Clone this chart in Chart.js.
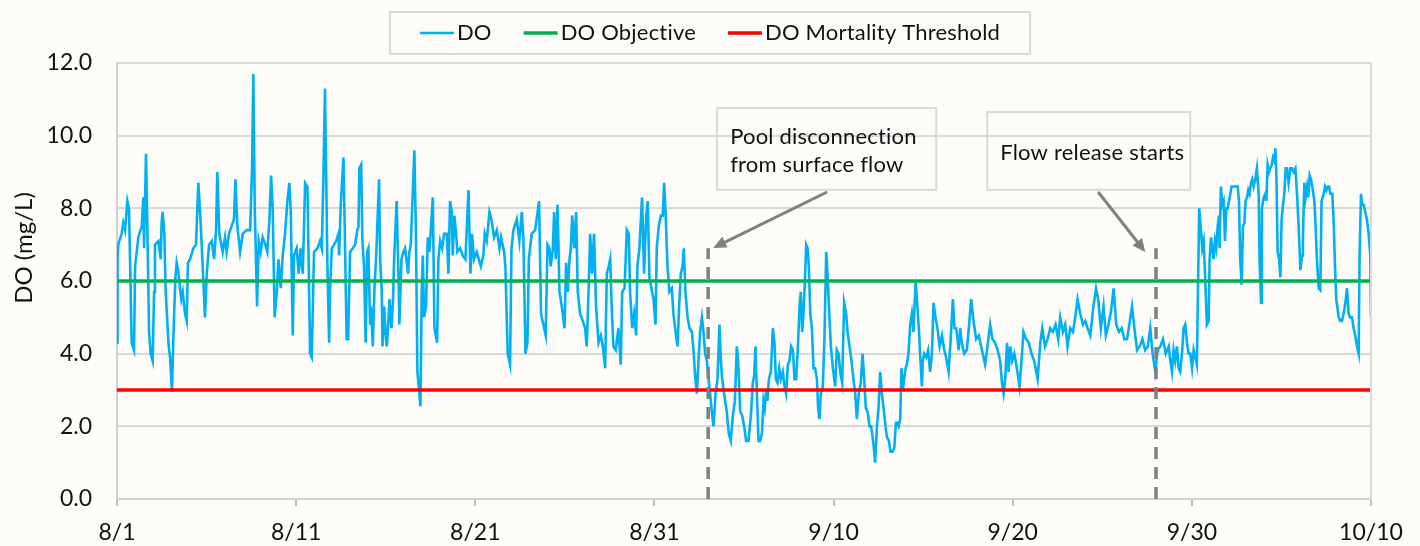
<!DOCTYPE html>
<html>
<head>
<meta charset="utf-8">
<script src="https://cdn.jsdelivr.net/npm/chart.js@4.4.1/dist/chart.umd.min.js"></script>
<style>
  html, body { margin: 0; padding: 0; background: #fdfcf9; }
  #wrap { width: 1420px; height: 546px; }
</style>
</head>
<body>
<div id="wrap"><canvas id="doChart" width="1420" height="546"></canvas></div>
<script>
// x values are days since 8/1
const dateLabels = ['8/1', '8/11', '8/21', '8/31', '9/10', '9/20', '9/30', '10/10'];
const yTicks = [0, 2, 4, 6, 8, 10, 12];

const doDays = [
  0.00,0.03,0.07,0.26,0.35,0.45,0.58,0.67,0.82,0.95,1.01,1.19,1.38,1.47,1.51,1.62,1.69,1.79,1.88,1.99,
  2.07,2.12,2.31,2.44,2.49,2.55,2.64,2.72,2.87,2.96,3.07,3.15,3.26,3.33,3.41,3.52,3.59,3.67,3.80,3.89,
  3.96,4.08,4.26,4.41,4.54,4.67,4.82,4.91,5.01,5.14,5.29,5.42,5.53,5.60,5.71,5.90,6.03,6.12,6.25,6.46,
  6.53,6.61,6.72,6.87,7.02,7.24,7.43,7.54,7.61,7.69,7.82,7.91,8.02,8.13,8.28,8.39,8.51,8.60,8.69,8.80,
  8.92,9.01,9.14,9.25,9.38,9.51,9.62,9.70,9.81,9.88,10.03,10.14,10.25,10.37,10.50,10.63,10.78,10.87,11.00,11.19,
  11.33,11.43,11.52,11.61,
  11.74,11.84,11.89,11.99,12.12,12.23,12.36,12.40,12.49,12.64,12.71,12.82,12.90,13.01,13.16,13.29,13.42,13.48,13.53,13.63,
  13.70,13.79,13.88,13.96,14.03,14.13,14.18,14.28,14.37,14.46,14.63,14.69,14.78,14.82,14.91,15.00,15.06,15.13,15.21,15.32,
  15.41,15.47,15.61,15.73,15.76,15.88,15.99,16.08,16.25,16.32,16.40,16.60,16.68,16.77,16.94,17.01,17.07,17.14,17.25,17.35,
  17.44,17.63,17.72,17.87,17.94,18.04,18.15,18.26,18.41,18.50,18.59,18.69,18.74,18.83,18.93,19.00,19.15,19.30,19.45,19.62,
  19.73,19.82,19.93,20.08,20.31,20.45,20.53,20.64,20.79,20.90,21.05,21.20,21.35,21.44,21.61,21.68,21.81,21.94,22.02,22.13,
  22.32,22.46,22.60,22.69,22.80,22.91,22.99,23.15,23.34,23.56,
  23.67,23.80,23.93,24.03,24.14,24.21,24.33,24.40,24.49,24.59,24.70,24.83,24.98,25.07,25.16,25.26,25.33,25.41,25.52,25.63,
  25.72,25.85,26.00,26.13,26.22,26.33,26.41,26.52,26.63,26.74,26.88,27.01,27.12,27.25,27.34,27.45,27.53,27.62,27.71,27.84,
  27.99,28.12,28.20,28.33,28.46,28.57,28.64,28.76,28.87,28.98,29.05,29.16,29.31,29.42,29.54,29.63,29.72,29.83,29.95,30.06,
  30.13,30.24,30.36,30.47,30.54,30.62,30.73,30.84,30.97,31.06,31.18,31.29,31.38,31.47,31.57,31.64,31.73,31.85,31.96,32.09,
  32.18,32.27,32.37,32.46,32.55,32.65,32.74,32.83,32.93,33.02,33.11,33.20,33.30,33.41,33.52,33.63,33.71,33.78,33.89,34.04,
  34.15,34.26,34.38,34.49,34.60,34.67,34.79,34.90,35.01,35.12,35.25,
  35.40,35.49,35.57,35.64,35.72,35.81,35.90,36.00,36.09,36.16,36.24,36.31,36.39,36.50,36.61,36.70,36.78,36.87,36.97,37.06,
  37.17,37.26,37.35,37.45,37.54,37.63,37.73,37.82,37.91,38.01,38.10,38.17,38.25,38.32,38.40,38.47,38.55,38.62,38.70,38.79,
  38.88,38.97,39.07,39.14,39.21,39.29,39.40,39.49,39.59,39.66,39.76,39.85,39.96,40.09,40.18,40.28,40.37,40.48,40.59,40.70,
  40.78,40.89,41.00,41.11,41.21,41.30,41.41,41.52,41.62,41.71,41.80,41.90,42.01,42.10,42.23,42.32,42.42,42.51,42.60,42.70,
  42.79,42.90,42.98,43.09,43.18,43.28,43.39,43.48,43.55,43.63,43.72,43.79,43.87,43.94,44.02,44.09,44.18,44.28,44.37,44.46,
  44.58,44.65,44.76,44.84,44.93,44.98,45.06,45.17,45.28,45.39,45.49,45.58,45.69,45.80,45.92,46.05,46.18,46.28,46.42,46.55,
  46.66,46.75,46.85,46.98,
  47.07,47.16,47.29,47.44,47.55,47.68,47.81,47.96,48.11,48.28,48.46,48.59,48.74,48.87,49.02,49.16,49.30,49.40,49.49,49.58,
  49.68,49.77,49.86,49.97,50.09,50.23,50.38,50.49,50.60,50.75,50.90,51.05,51.20,51.39,51.54,51.65,51.80,51.95,52.09,52.24,
  52.39,52.54,52.65,52.80,52.93,53.06,53.21,53.36,53.49,53.62,53.77,53.92,54.05,54.18,54.33,54.48,54.65,54.77,54.92,55.07,
  55.20,55.35,55.50,55.63,55.78,55.93,56.08,56.23,56.38,56.51,56.66,56.79,56.94,57.09,57.24,57.39,57.54,57.68,57.81,57.96,
  58.09,58.24,58.39,58.54,58.71,
  58.80,58.89,58.98,59.07,59.17,59.26,59.35,59.45,59.54,59.63,59.73,59.82,59.91,60.01,60.10,60.19,60.28,60.34,60.41,60.51,
  60.58,60.66,60.75,60.84,60.94,60.99,61.07,61.14,61.21,61.29,61.36,61.44,61.51,61.55,61.62,61.70,61.77,61.85,61.92,62.00,
  62.07,62.15,62.22,62.33,62.43,62.56,62.63,62.70,62.78,62.85,62.93,63.00,63.08,63.15,63.22,63.30,63.37,63.45,63.54,63.63,
  63.73,63.78,63.86,63.91,64.01,64.10,64.16,64.23,64.31,64.38,64.46,64.53,64.61,64.66,64.72,64.79,64.87,64.94,65.01,65.09,
  65.16,65.24,65.31,65.40,65.50,65.59,65.68,65.78,65.87,65.96,66.06,66.15,66.20,66.28,66.35,66.43,66.50,66.58,66.65,66.72,
  66.84,66.91,66.98,67.08,67.17,67.24,67.36,67.43,67.51,67.58,67.66,67.73,67.84,67.92,67.99,68.06,68.20,68.29,68.38,68.47,
  68.57,68.66,68.75,68.84,68.94,69.03,69.12,69.22,69.31,69.36,69.44,69.51,69.59,69.68,69.77,69.87,69.96,70.00
];

const doMgL = [
  4.3,6.6,7.0,7.3,7.6,7.4,8.2,8.0,4.3,4.1,6.4,7.2,7.5,8.3,6.9,9.5,7.6,4.6,4.0,3.8,
  5.7,7.0,7.1,6.6,7.6,7.9,7.3,5.7,4.3,3.9,2.95,4.5,6.1,6.5,6.3,5.8,5.5,5.7,5.1,4.9,
  6.5,6.6,6.9,7.0,8.7,7.6,6.0,5.0,6.2,7.0,7.1,6.6,7.4,9.0,7.3,6.8,7.2,6.8,7.3,7.6,
  7.7,8.8,7.5,6.8,7.3,7.4,7.4,9.1,11.7,8.0,5.3,7.1,6.8,7.2,7.0,6.8,7.7,8.9,8.0,5.0,
  5.7,6.6,5.8,6.7,7.3,8.2,8.7,7.9,4.5,6.7,6.9,6.2,6.9,6.2,8.7,8.6,4.0,3.9,6.8,6.9,
  7.1,6.9,8.8,11.3,
  6.6,4.3,5.7,6.9,7.0,7.1,7.3,6.7,8.1,9.4,7.5,4.4,4.4,6.8,6.9,7.0,7.4,7.5,9.1,9.2,
  7.1,6.4,4.3,6.8,6.9,4.8,5.3,4.2,5.8,6.6,8.8,6.6,5.7,4.2,5.3,4.5,4.2,4.7,5.5,4.7,
  5.5,6.6,8.2,5.8,4.8,6.6,6.8,6.9,6.2,6.8,7.0,9.6,7.5,3.5,2.55,5.7,6.7,5.0,5.3,7.2,
  6.8,8.3,4.7,4.3,6.6,7.1,6.9,7.3,7.3,6.2,8.2,7.9,6.7,7.8,7.3,6.8,6.9,6.7,6.6,8.5,
  6.2,7.3,6.6,6.8,6.4,6.7,7.3,7.1,7.9,7.7,7.2,7.4,6.9,7.2,6.8,6.4,4.0,3.7,6.9,7.4,
  7.7,7.1,7.9,7.1,4.0,4.3,6.6,7.3,7.4,8.2,
  5.1,4.8,4.5,7.0,6.9,6.4,6.9,7.9,6.6,8.1,5.7,5.3,4.7,6.5,5.7,6.6,6.9,7.8,6.9,7.9,
  5.7,5.1,4.9,4.7,4.2,5.8,7.3,6.2,7.3,5.3,4.3,4.5,4.2,3.6,6.2,6.4,6.6,5.2,4.2,4.1,
  4.7,3.7,5.7,5.8,7.4,7.3,5.7,4.7,5.1,4.5,6.4,6.9,8.3,6.2,7.8,8.2,6.1,5.8,5.5,4.8,
  6.9,7.5,7.8,7.8,8.7,7.9,6.4,5.7,5.8,5.1,4.6,4.2,5.3,6.2,6.4,6.9,5.7,5.0,4.7,4.6,
  4.1,3.4,2.9,3.8,4.6,5.0,4.6,4.0,3.8,3.3,2.9,2.4,2.0,2.9,3.3,4.8,3.8,3.3,2.9,2.4,
  1.8,1.6,2.3,2.7,4.2,3.8,2.4,2.3,2.0,1.6,1.6,
  2.4,3.2,3.4,4.2,2.9,1.6,1.6,1.8,2.7,2.5,3.0,2.7,3.3,3.5,4.7,4.3,3.3,3.2,3.6,3.3,
  3.5,3.1,2.9,3.7,3.8,4.2,4.1,3.3,3.3,4.2,5.3,5.7,4.6,5.1,6.0,7.0,6.9,6.4,5.1,4.7,
  3.6,3.6,3.3,2.5,2.2,2.9,3.1,4.4,6.8,6.2,5.1,4.2,3.6,3.1,4.1,4.0,3.5,3.2,5.4,5.1,
  4.6,4.2,3.8,3.3,2.9,2.2,2.9,3.2,4.0,3.3,2.5,2.4,2.0,2.0,1.5,1.0,2.0,2.5,3.5,2.9,
  2.5,2.0,1.7,1.6,1.3,1.3,1.4,2.1,2.1,2.0,2.2,3.6,3.0,3.3,3.6,3.7,4.0,4.8,5.1,4.6,
  6.0,5.5,4.7,3.9,3.1,3.8,4.0,3.9,4.1,3.5,4.0,5.4,5.0,4.7,4.2,4.5,4.1,3.9,3.5,4.5,
  5.5,4.7,4.7,4.1,
  4.7,4.3,4.0,4.1,4.7,5.5,4.9,4.4,4.5,4.1,3.7,4.2,4.8,4.4,4.3,4.1,3.8,3.2,2.9,3.3,
  4.3,3.5,4.2,3.8,4.0,3.6,3.1,3.8,4.6,4.4,4.3,4.0,3.8,3.3,4.3,4.7,4.2,4.4,4.7,4.6,
  4.8,4.4,5.0,4.6,4.8,4.2,4.7,4.6,5.0,5.5,5.1,4.8,4.9,4.7,4.5,5.2,5.8,5.5,4.7,5.3,
  4.5,4.8,5.2,5.8,4.8,4.6,4.7,4.4,4.4,4.8,5.3,4.7,4.1,4.2,4.4,4.1,4.2,4.7,4.0,3.5,
  4.1,4.2,4.4,4.0,4.2,
  3.8,3.5,4.1,3.8,4.2,3.6,3.5,4.0,4.7,4.8,4.3,4.0,4.0,3.6,4.1,3.9,3.7,5.7,8.0,7.4,
  6.9,7.1,6.0,4.8,4.9,6.6,7.2,6.9,6.6,7.1,6.9,7.5,7.8,6.9,8.6,8.1,8.2,7.1,8.0,8.0,
  8.2,8.4,8.6,8.6,8.6,8.6,8.2,6.6,5.9,7.5,7.6,8.2,8.3,8.5,8.4,8.7,8.8,8.6,8.8,9.1,
  8.4,6.6,5.4,8.0,8.3,8.4,8.2,9.2,9.0,9.1,9.2,9.4,9.3,9.65,8.9,6.8,6.6,6.1,7.7,8.1,
  8.4,9.1,9.1,8.7,9.1,9.1,9.0,9.1,8.4,7.5,6.3,6.7,7.2,8.7,8.3,8.6,8.3,8.9,8.8,8.6,
  8.2,7.5,6.6,5.8,5.75,8.2,8.4,8.6,8.5,8.6,8.6,8.4,8.4,7.6,6.4,5.5,5.0,4.9,4.9,5.1,
  5.4,5.8,5.1,5.0,5.0,4.7,4.5,4.2,4.0,6.6,8.4,8.1,8.1,7.9,7.7,7.3,6.7,5.0
];

const objectiveLevel = 6.0;
const mortalityLevel = 3.0;
// 9/3 pool disconnection, 9/28 flow release
const eventDays = [33, 58];
const eventTop = 6.9;

const notes = [
  { lines: ['Pool disconnection', 'from surface flow'], x0: 33.5, x1: 45.73, y0: 10.76, y1: 8.51, from: [39.64, 8.45], to: [33.28, 6.91] },
  { lines: ['Flow release starts'], x0: 48.58, x1: 59.91, y0: 10.65, y1: 8.51, from: [54.77, 8.45], to: [57.40, 6.80] }
];

Chart.defaults.font.family = 'Lato';
Chart.defaults.color = '#111111';

const doPoints = doDays.map((d, i) => ({ x: d, y: doMgL[i] }));
const flat = (v) => [{ x: 0, y: v }, { x: 70, y: v }];

const datasets = [
  { label: 'DO', data: doPoints, borderColor: '#00b0f0', borderWidth: 2.6, order: 4 },
  { label: 'DO Objective', data: flat(objectiveLevel), borderColor: '#00b050', borderWidth: 3.5, order: 3 },
  { label: 'DO Mortality Threshold', data: flat(mortalityLevel), borderColor: '#ff0000', borderWidth: 3.5, order: 2 }
];
eventDays.forEach(d => {
  datasets.push({ label: '', data: [{ x: d, y: 0 }, { x: d, y: eventTop }], borderColor: '#7f7f7f',
    borderWidth: 3.5, borderDash: [12, 8], order: 1 });
});

const decor = {
  id: 'decor',
  afterDraw(chart) {
    const ctx = chart.ctx, a = chart.chartArea;
    const xs = chart.scales.x, ys = chart.scales.y;
    ctx.save();
    // right border of plot
    ctx.strokeStyle = '#d9d9d9';
    ctx.lineWidth = 2;
    ctx.beginPath();
    ctx.moveTo(a.right, a.top);
    ctx.lineTo(a.right, a.bottom);
    ctx.stroke();

    // y axis title
    ctx.save();
    ctx.translate(24, 248);
    ctx.rotate(-Math.PI / 2);
    ctx.font = '24px Lato';
    ctx.fillStyle = '#111111';
    ctx.textAlign = 'center';
    ctx.textBaseline = 'middle';
    ctx.fillText('DO (mg/L)', 0, 0);
    ctx.restore();

    // legend (small letter spacing keeps "ct" from joining into a ligature)
    ctx.font = '22px Lato';
    if ('letterSpacing' in ctx) ctx.letterSpacing = '0.2px';
    ctx.textBaseline = 'middle';
    ctx.textAlign = 'left';
    const items = datasets.slice(0, 3);
    const lineW = 34, gap = 3, between = 32, pad = 30;
    let total = pad * 2 + between * (items.length - 1);
    items.forEach(it => { total += lineW + gap + ctx.measureText(it.label).width; });
    let lx = 710 - total / 2;
    ctx.strokeStyle = '#d9d9d9';
    ctx.lineWidth = 2;
    ctx.strokeRect(lx, 12, total, 42);
    lx += pad;
    items.forEach(it => {
      ctx.strokeStyle = it.borderColor;
      ctx.lineWidth = it.borderWidth;
      ctx.beginPath();
      ctx.moveTo(lx, 33);
      ctx.lineTo(lx + lineW, 33);
      ctx.stroke();
      lx += lineW + gap;
      ctx.fillStyle = '#111111';
      ctx.fillText(it.label, lx, 33);
      lx += ctx.measureText(it.label).width + between;
    });

    // callout boxes and arrows
    notes.forEach(n => {
      const bx0 = xs.getPixelForValue(n.x0), bx1 = xs.getPixelForValue(n.x1);
      const by0 = ys.getPixelForValue(n.y0), by1 = ys.getPixelForValue(n.y1);
      ctx.strokeStyle = '#d9d9d9';
      ctx.lineWidth = 2;
      ctx.strokeRect(bx0, by0, bx1 - bx0, by1 - by0);
      ctx.font = '22px Lato';
      ctx.fillStyle = '#111111';
      ctx.textBaseline = 'middle';
      const cy = (by0 + by1) / 2 + 2;
      n.lines.forEach((t, i) => {
        ctx.fillText(t, bx0 + 13, cy + (i - (n.lines.length - 1) / 2) * 28);
      });
      const fx = xs.getPixelForValue(n.from[0]), fy = ys.getPixelForValue(n.from[1]);
      const tx = xs.getPixelForValue(n.to[0]), ty = ys.getPixelForValue(n.to[1]);
      const ang = Math.atan2(ty - fy, tx - fx);
      const hl = 13, hw = 6;
      ctx.strokeStyle = '#808080';
      ctx.fillStyle = '#808080';
      ctx.lineWidth = 3;
      ctx.beginPath();
      ctx.moveTo(fx, fy);
      ctx.lineTo(tx - Math.cos(ang) * hl * 0.8, ty - Math.sin(ang) * hl * 0.8);
      ctx.stroke();
      ctx.beginPath();
      ctx.moveTo(tx, ty);
      ctx.lineTo(tx - Math.cos(ang) * hl - Math.sin(ang) * hw, ty - Math.sin(ang) * hl + Math.cos(ang) * hw);
      ctx.lineTo(tx - Math.cos(ang) * hl + Math.sin(ang) * hw, ty - Math.sin(ang) * hl - Math.cos(ang) * hw);
      ctx.closePath();
      ctx.fill();
    });
    ctx.restore();
  }
};

new Chart(document.getElementById('doChart'), {
  type: 'line',
  data: { datasets },
  options: {
    responsive: false,
    animation: false,
    devicePixelRatio: 1,
    layout: { padding: { top: 63, right: 49, left: 0, bottom: 0 } },
    elements: { point: { radius: 0 }, line: { tension: 0, fill: false } },
    plugins: { legend: { display: false }, tooltip: { enabled: false } },
    scales: {
      x: {
        type: 'linear', min: 0, max: 70,
        afterFit: s => { s.height = 47; },
        afterBuildTicks: s => { s.ticks = dateLabels.map((l, i) => ({ value: i * 10 })); },
        ticks: { callback: (v) => dateLabels[Math.round(v / 10)], font: { size: 23 }, color: '#111111', padding: 13, maxRotation: 0 },
        grid: { drawOnChartArea: false, drawTicks: true, tickLength: 7, color: '#bfbfbf', lineWidth: 2 },
        border: { display: true, color: '#d0d0d0', width: 2 }
      },
      y: {
        min: 0, max: 12,
        afterFit: s => { s.width = 117; },
        afterBuildTicks: s => { s.ticks = yTicks.map(v => ({ value: v })); },
        ticks: { callback: (v) => v.toFixed(1), font: { size: 23 }, color: '#111111', padding: 25 },
        grid: { color: '#d9d9d9', lineWidth: 2, drawTicks: false },
        border: { display: true, color: '#d0d0d0', width: 2 }
      }
    }
  },
  plugins: [decor]
});
</script>
</body>
</html>
